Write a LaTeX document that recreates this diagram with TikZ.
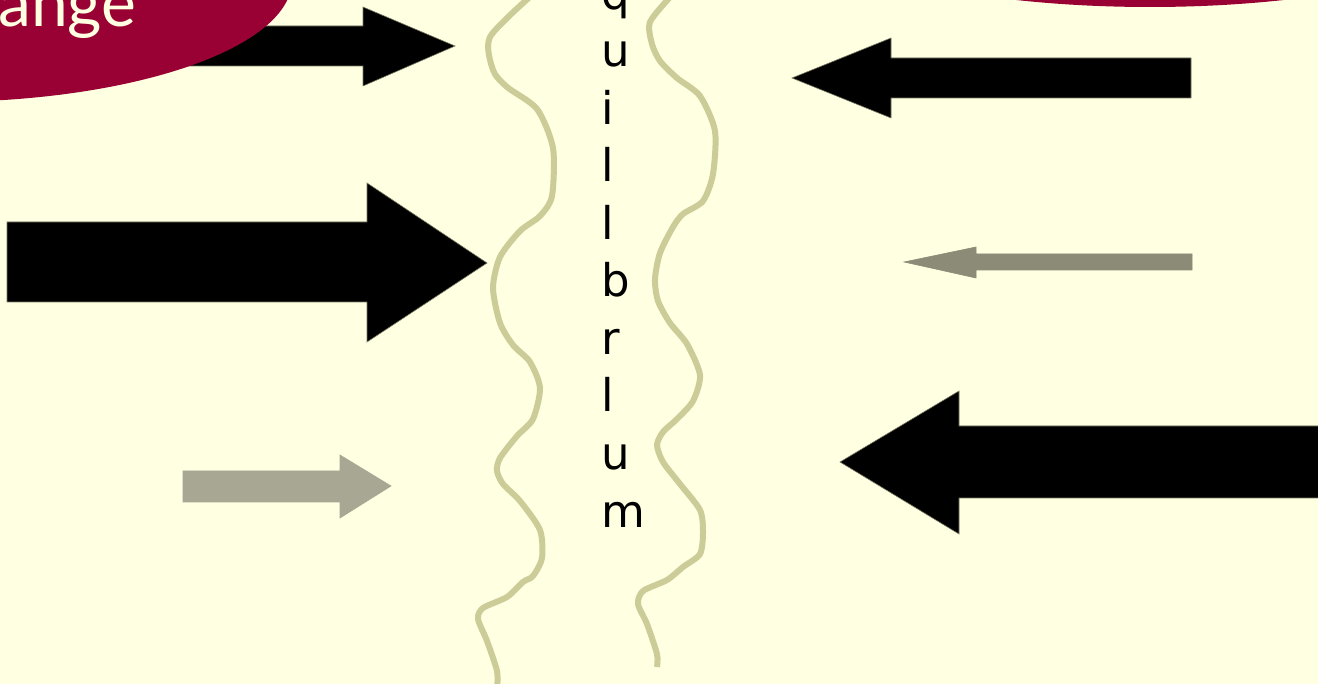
\documentclass[tikz,border=0pt]{standalone}
\usepackage{fontspec}
\newfontfamily\lettersfont{DejaVu Sans}
\newfontfamily\thinfont{Lato}
\definecolor{paper}{RGB}{255,255,225}
\definecolor{maroon}{RGB}{153,0,51}
\definecolor{cream}{RGB}{255,255,225}
\definecolor{wave}{RGB}{204,204,153}
\definecolor{lightgrey}{RGB}{167,167,147}
\definecolor{midgrey}{RGB}{139,139,120}
\definecolor{rim}{RGB}{120,120,100}
\tikzset{
  fatarrow/.style={draw=rim, line width=0.6pt},
  wavy/.style={draw=wave, line width=6pt, line join=round, line cap=round},
  letter/.style={font=\lettersfont\fontsize{45}{45}\selectfont, anchor=base west, inner sep=0pt},
}
\begin{document}
\begin{tikzpicture}[x=1pt,y=-1pt]
  \useasboundingbox (0,0) rectangle (1318,684);
  \fill[paper] (0,0) rectangle (1318,684);
  \clip (0,0) rectangle (1318,684);

  % arrows pushing to the right
  \filldraw[fatarrow, fill=black] (150,26) -- (363,26) -- (363,7) -- (455,46) -- (363,86) -- (363,66) -- (150,66) -- cycle;
  \filldraw[fatarrow, fill=black] (7,222) -- (367,222) -- (367,183) -- (487,263) -- (367,342) -- (367,302) -- (7,302) -- cycle;
  \filldraw[fatarrow, draw=lightgrey, fill=lightgrey] (183,471) -- (340,471) -- (340,455) -- (391,486) -- (340,518) -- (340,502) -- (183,502) -- cycle;

  % arrows pushing to the left
  \filldraw[fatarrow, fill=black] (1191,58) -- (891,58) -- (891,38) -- (792,78) -- (891,118) -- (891,98) -- (1191,98) -- cycle;
  \filldraw[fatarrow, draw=midgrey, fill=midgrey] (1192,254) -- (976,254) -- (976,247) -- (904,262) -- (976,278) -- (976,270) -- (1192,270) -- cycle;
  \filldraw[fatarrow, fill=black] (1330,426) -- (959,426) -- (959,391) -- (840,462) -- (959,534) -- (959,498) -- (1330,498) -- cycle;

  % title blobs
  \fill[maroon] (-60,-20) ellipse [x radius=352pt, y radius=122pt];
  \fill[maroon] (1150,-103) ellipse [x radius=380pt, y radius=110pt];
  \node[font=\thinfont\fontsize{66}{66}\selectfont, text=cream, anchor=base west, inner sep=0pt] (title) at (-2,27) {ange};

  % the two wavy boundaries
  \draw[wavy] plot[smooth, tension=0.45] coordinates {
    (532,-5) (490,37) (493,70) (507,87) (537,109) (553,148) (552,196) (540,216)
    (520,231) (500,257) (493,288) (500,323) (513,345) (530,362) (540,388) (533,419)
    (517,436) (500,458) (497,471) (503,484) (520,501) (540,530) (542,558) (533,576)
    (523,582) (507,597) (483,608) (478,619) (487,641) (497,671) (497,690)};
  \draw[wavy, line cap=butt] plot[smooth, tension=0.45] coordinates {
    (672,-5) (650,22) (652,44) (660,61) (677,78) (700,96) (715,131) (713,174)
    (703,201) (683,214) (673,227) (660,253) (655,279) (658,301) (670,323) (687,344)
    (700,375) (693,401) (677,419) (663,432) (657,445) (663,462) (680,484) (700,510)
    (703,532) (700,554) (683,567) (667,580) (643,591) (638,604) (647,624) (657,654)
    (657,667)};

  % vertical lettering between the boundaries
  \foreach \ch [count=\i] in {q,u,i,l,l,b,r,l,u,m}
    \node[letter] (c\i) at (601,{9.5+57.5*(\i-1)}) {\ch};
\end{tikzpicture}
\end{document}
